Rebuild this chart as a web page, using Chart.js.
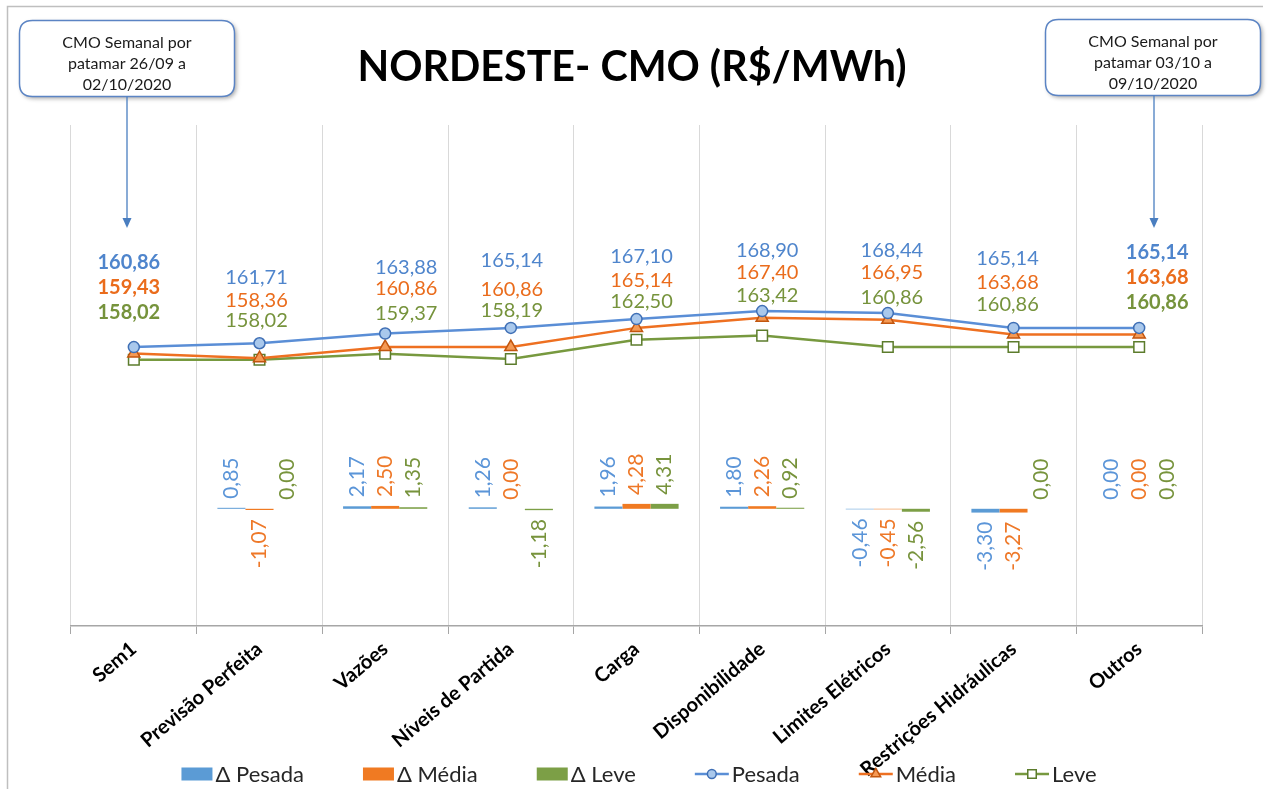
<!DOCTYPE html>
<html><head><meta charset="utf-8">
<script src="https://cdn.jsdelivr.net/npm/chart.js@4.4.1/dist/chart.umd.min.js"></script>
<style>html,body{margin:0;padding:0;background:#fff;}#wrap{width:1268px;height:789px;position:relative;}</style>
</head><body><div id="wrap"><canvas id="c" width="1268" height="789"></canvas></div>
<script>
// ---- data ----
const categories = ['Sem1','Previsão Perfeita','Vazões','Níveis de Partida','Carga','Disponibilidade','Limites Elétricos','Restrições Hidráulicas','Outros'];
const pesada = [160.86,161.71,163.88,165.14,167.10,168.90,168.44,165.14,165.14];
const media  = [159.43,158.36,160.86,160.86,165.14,167.40,166.95,163.68,163.68];
const leve   = [158.02,158.02,159.37,158.19,162.50,163.42,160.86,160.86,160.86];
const deltaPesada = [null,0.85,2.17,1.26,1.96,1.80,-0.46,-3.30,0.00];
const deltaMedia  = [null,-1.07,2.50,0.00,4.28,2.26,-0.45,-3.27,0.00];
const deltaLeve   = [null,0.00,1.35,-1.18,4.31,0.92,-2.56,0.00,0.00];
const titleText = 'NORDESTE- CMO (R$/MWh)';
const calloutLeftLines  = ['CMO Semanal por','patamar 26/09 a','02/10/2020'];
const calloutRightLines = ['CMO Semanal por','patamar 03/10 a','09/10/2020'];
const boldLabelCats = [0,8];

// ---- layout / style (not data) ----
const labelLayout = {
  dx:   [-5,-3,21,1,5,5,4,-6,18],
  rowP: [84.5,65.5,66,67.5,62.3,60.2,62.2,69,75],
  rowM: [59.5,42.5,44.5,38.5,39,38,40.5,45,50],
  rowL: [34.5,22.5,20,17.5,17.3,15,15.5,23,25]
};
const C = {
  barBlue:'#5B9BD5', barOrange:'#F07A22', barGreen:'#7C9F46',
  lineBlue:'#5A8ED6', lineOrange:'#EE7021', lineGreen:'#77993F',
  lblBlue:'#4F85CC', lblOrange:'#EA6C1C', lblGreen:'#76933C',
  bLblBlue:'#5B95D8', bLblOrange:'#EE7828', bLblGreen:'#77933C'
};
const FONT = 'Lato';
const fmt = v => v.toFixed(2).replace('.', ',');

function roundRect(ctx, x, y, w, h, r){
  ctx.beginPath();
  ctx.moveTo(x+r,y); ctx.lineTo(x+w-r,y); ctx.quadraticCurveTo(x+w,y,x+w,y+r);
  ctx.lineTo(x+w,y+h-r); ctx.quadraticCurveTo(x+w,y+h,x+w-r,y+h);
  ctx.lineTo(x+r,y+h); ctx.quadraticCurveTo(x,y+h,x,y+h-r);
  ctx.lineTo(x,y+r); ctx.quadraticCurveTo(x,y,x+r,y); ctx.closePath();
}
function callout(ctx, x, y, w, h, lines, ax, tipY){
  ctx.save();
  ctx.shadowColor='rgba(0,0,0,0.35)'; ctx.shadowBlur=4; ctx.shadowOffsetX=2; ctx.shadowOffsetY=2;
  roundRect(ctx,x,y,w,h,13); ctx.fillStyle='#fff'; ctx.fill();
  ctx.restore();
  ctx.save();
  roundRect(ctx,x,y,w,h,13); ctx.strokeStyle='#5B84C4'; ctx.lineWidth=1.5; ctx.stroke();
  ctx.fillStyle='#1a1a1a'; ctx.font='16px '+FONT; ctx.textAlign='center'; ctx.textBaseline='middle';
  lines.forEach((t,i)=>ctx.fillText(t, x+w/2, y+22+i*21));
  ctx.strokeStyle='#4A7EC0'; ctx.lineWidth=1.3;
  ctx.beginPath(); ctx.moveTo(ax, y+h); ctx.lineTo(ax, tipY-8); ctx.stroke();
  ctx.fillStyle='#4A7EC0';
  ctx.beginPath(); ctx.moveTo(ax, tipY); ctx.lineTo(ax-4.5, tipY-10); ctx.lineTo(ax+4.5, tipY-10); ctx.closePath(); ctx.fill();
  ctx.restore();
}

const decor = {
  id:'decor',
  beforeDraw(chart){
    const ctx = chart.ctx;
    ctx.save();
    ctx.fillStyle='#fff'; ctx.fillRect(0,0,chart.width,chart.height);
    ctx.strokeStyle='#BFBFBF'; ctx.lineWidth=1.5;
    ctx.beginPath(); ctx.moveTo(7.5,789); ctx.lineTo(7.5,6.5); ctx.lineTo(1263,6.5); ctx.stroke();
    ctx.fillStyle='#000'; ctx.textAlign='center'; ctx.textBaseline='middle';
    ctx.font='bold 42px '+FONT;
    const w = ctx.measureText(titleText).width;
    const size = 42*549/w;
    ctx.font='bold '+size.toFixed(1)+'px '+FONT;
    ctx.fillText(titleText, 632, 68);
    ctx.restore();
    callout(ctx, 19.5, 20.5, 215, 76, calloutLeftLines, 127, 228);
    callout(ctx, 1045.5, 19.5, 215, 76, calloutRightLines, 1154, 228);
  },
  afterDatasetsDraw(chart){
    const ctx = chart.ctx;
    ctx.save();
    const barCols = [C.bLblBlue, C.bLblOrange, C.bLblGreen];
    [0,1,2].forEach(di=>{
      const meta = chart.getDatasetMeta(di);
      const ds = chart.data.datasets[di].data;
      meta.data.forEach((el,i)=>{
        const v = ds[i]; if (v===null || v===undefined) return;
        ctx.save();
        ctx.font='21px '+FONT; ctx.fillStyle=barCols[di]; ctx.textBaseline='middle';
        if (v >= 0){
          const top = Math.min(el.y, el.base);
          ctx.translate(el.x, top-9); ctx.rotate(-Math.PI/2); ctx.textAlign='left';
        } else {
          const bot = Math.max(el.y, el.base);
          ctx.translate(el.x, bot+9); ctx.rotate(-Math.PI/2); ctx.textAlign='right';
        }
        ctx.fillText(fmt(v), 0, 0);
        ctx.restore();
      });
    });
    const mP = chart.getDatasetMeta(3);
    const rows = [[pesada, labelLayout.rowP, C.lblBlue],[media, labelLayout.rowM, C.lblOrange],[leve, labelLayout.rowL, C.lblGreen]];
    ctx.textAlign='center'; ctx.textBaseline='middle';
    mP.data.forEach((pt,i)=>{
      const bold = boldLabelCats.includes(i);
      rows.forEach(([arr, off, col])=>{
        ctx.font=(bold?'bold ':'')+'20px '+FONT;
        ctx.fillStyle=col;
        ctx.fillText(fmt(arr[i]), pt.x + labelLayout.dx[i], pt.y - off[i]);
      });
    });
    ctx.restore();
  },
  afterDraw(chart){
    const ctx = chart.ctx;
    ctx.save();
    const items = chart.data.datasets.map(d=>({label:d.label, type:d.type||'bar', ds:d}));
    ctx.font='22px '+FONT; ctx.textBaseline='middle'; ctx.textAlign='left';
    const symW = it => it.type==='line' ? 34 : 31;
    const gap = 59, pad = 3;
    let total = 0;
    items.forEach((it,k)=>{ total += symW(it)+pad+ctx.measureText(it.label).width + (k<items.length-1?gap:0); });
    let x = 639 - total/2;
    const y = 774;
    items.forEach(it=>{
      const d = it.ds;
      if (it.type==='line'){
        ctx.strokeStyle=d.borderColor; ctx.lineWidth=2.5;
        ctx.beginPath(); ctx.moveTo(x,y); ctx.lineTo(x+34,y); ctx.stroke();
        ctx.fillStyle=d.pointBackgroundColor; ctx.strokeStyle=d.pointBorderColor; ctx.lineWidth=d.pointBorderWidth;
        Chart.helpers.drawPoint(ctx, {pointStyle:d.pointStyle, radius:d.pointRadius*0.8, borderWidth:d.pointBorderWidth}, x+17, y);
      } else {
        ctx.fillStyle=d.backgroundColor; ctx.fillRect(x, y-6.5, 31, 13);
      }
      x += symW(it)+pad;
      ctx.fillStyle='#262626';
      ctx.fillText(it.label, x, y+1);
      x += ctx.measureText(it.label).width + gap;
    });
    ctx.restore();
  }
};

const barCommon = {yAxisID:'yBar', order:2, categoryPercentage:0.67, barPercentage:1.0, borderWidth:0};
new Chart(document.getElementById('c'), {
  type:'bar',
  data:{
    labels: categories,
    datasets:[
      Object.assign({label:'Δ Pesada', data:deltaPesada, backgroundColor:C.barBlue}, barCommon),
      Object.assign({label:'Δ Média', data:deltaMedia, backgroundColor:C.barOrange}, barCommon),
      Object.assign({label:'Δ Leve', data:deltaLeve, backgroundColor:C.barGreen}, barCommon),
      {type:'line', label:'Pesada', data:pesada, yAxisID:'yLine', order:0, borderColor:C.lineBlue, borderWidth:2.5,
       pointStyle:'circle', pointRadius:5.5, pointBackgroundColor:'#A9C8EC', pointBorderColor:'#3F6FB5', pointBorderWidth:1.5, tension:0, fill:false},
      {type:'line', label:'Média', data:media, yAxisID:'yLine', order:0, borderColor:C.lineOrange, borderWidth:2.5,
       pointStyle:'triangle', pointRadius:7, pointBackgroundColor:'#F59A55', pointBorderColor:'#C2560F', pointBorderWidth:1.5, tension:0, fill:false},
      {type:'line', label:'Leve', data:leve, yAxisID:'yLine', order:0, borderColor:C.lineGreen, borderWidth:2.5,
       pointStyle:'rect', pointRadius:7.5, pointBackgroundColor:'#FFFFFF', pointBorderColor:'#5C7C2C', pointBorderWidth:1.5, tension:0, fill:false}
    ]
  },
  options:{
    responsive:false, animation:false, devicePixelRatio:1,
    layout:{padding:{left:71, right:66, top:125, bottom:0}},
    plugins:{legend:{display:false}, title:{display:false}, tooltip:{enabled:false}},
    scales:{
      x:{type:'category', offset:true,
         grid:{offset:true, color:'#D9D9D9', lineWidth:1, tickColor:'#A6A6A6', tickLength:8, drawOnChartArea:true},
         border:{color:'#A6A6A6', width:1.5},
         ticks:{autoSkip:false, maxRotation:40, minRotation:40, padding:3, color:'#000', font:{family:FONT, weight:'bold', size:20}},
         afterFit(s){ s.height = 163; }},
      yLine:{display:false, position:'left', min:98.56, max:210.45},
      yBar:{display:false, position:'right', min:-102, max:334}
    }
  },
  plugins:[decor]
});
</script></body></html>
